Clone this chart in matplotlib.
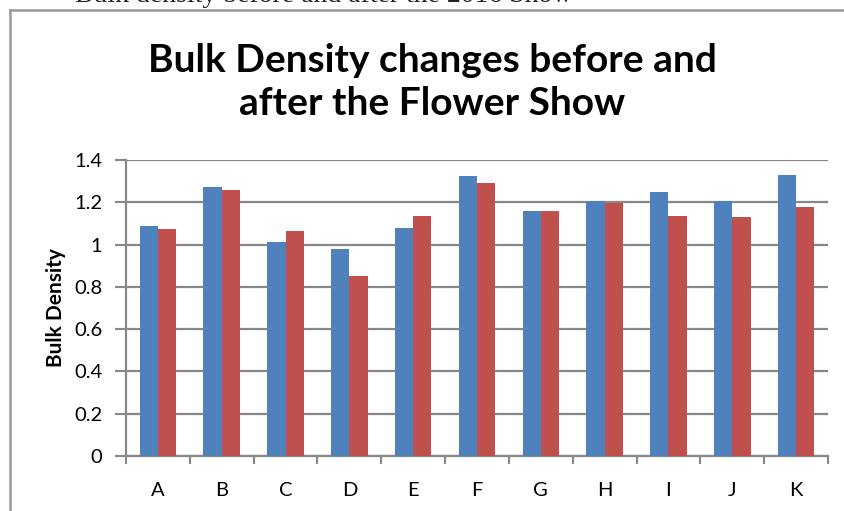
#!/usr/bin/env python
""" Bulk density before and after the flower show, grouped bar chart """

import numpy as np
import matplotlib
matplotlib.use('Agg')
import matplotlib.pyplot as plt
from matplotlib.lines import Line2D

sites = ['A', 'B', 'C', 'D', 'E', 'F', 'G', 'H', 'I', 'J', 'K']
before = [1.09, 1.27, 1.01, 0.98, 1.08, 1.325, 1.16, 1.205, 1.25, 1.205, 1.33]
after = [1.075, 1.26, 1.065, 0.85, 1.135, 1.29, 1.16, 1.195, 1.135, 1.13, 1.18]
yticks = [0, 0.2, 0.4, 0.6, 0.8, 1, 1.2, 1.4]

W, H = 844, 511
fig = plt.figure(figsize=(W / 100, H / 100), dpi=100)
ax = fig.add_axes([126 / W, 1 - 456 / H, (828 - 126) / W, (456 - 160) / H])

grey = '#888888'
x = np.arange(len(sites))
bw = 1 / 3.5
ax.bar(x - bw / 2, before, bw, color='#4F81BD', zorder=3)
ax.bar(x + bw / 2, after, bw, color='#C0504D', zorder=3)

ax.set_xlim(-0.5, len(sites) - 0.5)
ax.set_ylim(0, 1.4)
ax.set_yticks(yticks)
ax.set_yticklabels(['0', '0.2', '0.4', '0.6', '0.8', '1', '1.2', '1.4'])
ax.set_xticks(np.arange(len(sites) + 1) - 0.5)
ax.set_xticklabels([])
ax.set_xticks(x, minor=True)
ax.set_xticklabels(sites, minor=True)
ax.tick_params(axis='x', which='major', length=6, width=1.5, color=grey)
ax.tick_params(axis='x', which='minor', length=0, pad=19, labelsize=14.5)
ax.tick_params(axis='y', length=8, width=1.5, color=grey, labelsize=14.5, pad=9)
for lab in ax.get_xticklabels(minor=True) + ax.get_yticklabels():
    lab.set_fontfamily('Lato')

ax.grid(axis='y', color=grey, lw=1.6, zorder=0)
for s in ['top', 'right']:
    ax.spines[s].set_visible(False)
for s in ['left', 'bottom']:
    ax.spines[s].set_color(grey)
    ax.spines[s].set_linewidth(1.6)

ax.set_ylabel('Bulk Density', fontfamily='Lato', fontweight='bold', fontsize=15, labelpad=6)

fig.text(432 / W, 1 - 82 / H, 'Bulk Density changes before and\nafter the Flower Show',
         ha='center', va='center', fontfamily='Lato', fontweight='bold', fontsize=28,
         linespacing=1.25)

# caption above the chart box, mostly cut off by the image edge
fig.text(75 / W, 1 - 2 / H, 'Bulk density before and after the 2016 Show',
         ha='left', va='baseline', fontfamily='Liberation Serif', fontsize=20, color='#222222')

# chart border
fig.add_artist(Line2D([10 / W, 10 / W], [0, 1 - 10 / H], transform=fig.transFigure, color='#999999', lw=1.8))
fig.add_artist(Line2D([10 / W, 1], [1 - 10 / H, 1 - 10 / H], transform=fig.transFigure, color='#999999', lw=1.8))

plt.savefig('out.png', dpi=100)
